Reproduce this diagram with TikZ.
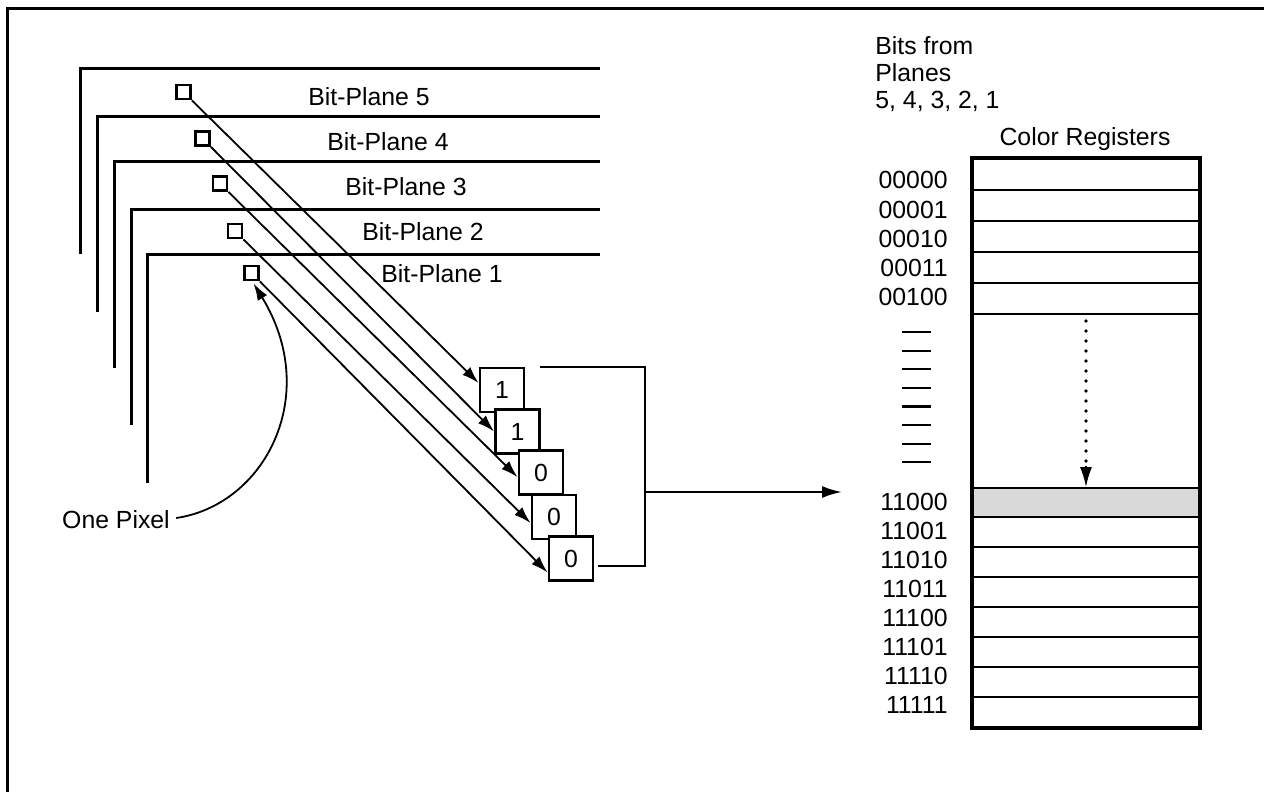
\documentclass[tikz,border=0pt]{standalone}
\usepackage{fontspec}
\setmainfont{Liberation Sans}
\usetikzlibrary{arrows.meta,calc}
\begin{document}
\begin{tikzpicture}[x=0.5pt,y=-0.5pt,
  txt/.style={font=\fontsize{12.4}{13.5}\selectfont,inner sep=0pt},
  plane/.style={line width=1.5pt},
  pix/.style={draw,line width=1.4pt,minimum size=7pt,inner sep=0pt},
  bitbox/.style={draw,fill=white,line width=1.4pt,minimum size=22pt,inner sep=0pt,font=\fontsize{12.4}{14}\selectfont},
  link/.style={line width=0.9pt,-{Latex[length=8.5pt,width=5.5pt]}},
  reg/.style={draw,line width=1pt,minimum width=113pt,inner sep=0pt,anchor=north west},
  dashmark/.style={line width=1.1pt},
]
\useasboundingbox (0,0) rectangle (1264,792);
% frame
\draw[line width=1.5pt] (1264,9) -- (7,9) -- (7,792);

% bit planes
\draw[plane] (600,69) -- (80,69) -- (80,254);
\draw[plane] (600,117) -- (97,117) -- (97,312);
\draw[plane] (600,162) -- (114,162) -- (114,368);
\draw[plane] (600,209) -- (131,209) -- (131,425);
\draw[plane] (600,254) -- (147,254) -- (147,483);

\node[txt,anchor=west] (t5) at (308,97) {Bit-Plane 5};
\node[txt,anchor=west] (t4) at (327,142) {Bit-Plane 4};
\node[txt,anchor=west] (t3) at (345,187) {Bit-Plane 3};
\node[txt,anchor=west] (t2) at (362,232) {Bit-Plane 2};
\node[txt,anchor=west] (t1) at (381,274) {Bit-Plane 1};

% pixels
\node[pix] (px5) at (183.5,92) {};
\node[pix] (px4) at (202.5,138.5) {};
\node[pix] (px3) at (220,183.5) {};
\node[pix] (px2) at (235,231) {};
\node[pix] (px1) at (251.5,273) {};

% bit boxes
\node[bitbox] (b5) at (502,390) {1};
\node[bitbox] (b4) at (517.5,431.5) {1};
\node[bitbox] (b3) at (541,472.5) {0};
\node[bitbox] (b2) at (554,517) {0};
\node[bitbox] (b1) at (571,558.5) {0};

\draw[link] (px5.south east) -- ($(b5.south west)!0.65!(b5.north west)$);
\draw[link] (px4.south east) -- ($(b4.south west)!0.5!(b4.north west)$);
\draw[link] (px3.south east) -- ($(b3.south west)!0.4!(b3.north west)$);
\draw[link] (px2.south east) -- ($(b2.south west)!0.37!(b2.north west)$);
\draw[link] (px1.south east) -- ($(b1.south west)!0.2!(b1.north west)$);

% one pixel
\node[txt] (onepix) at (116,520) {One Pixel};
\draw[link] ($(onepix.east)+(6,-2)$) .. controls (265,505) and (322,395) .. ($(px1.south)+(2,2)$);

% bracket and arrow
\coordinate (brt) at (540,367);
\coordinate (brb) at (598,566);
\coordinate (brm) at (645,492);
\coordinate (tip) at (842,492);
\draw[line width=1.1pt] (brt) -- (645,367) -- (645,566) -- (brb);
\draw[line width=1.1pt,-{Latex[length=10pt,width=6pt]}] (brm) -- (tip);

% headings
\node[txt,anchor=north west,align=left] (bits) at (875,36) {Bits from\\Planes\\5, 4, 3, 2, 1};
\node[txt] (creg) at (1085,139) {Color Registers};

% registers
\node[reg,minimum height=15.5pt] (r0) at (972,158) {};
\node[reg,minimum height=15.5pt] (r1) at (972,189) {};
\node[reg,minimum height=15.5pt] (r2) at (972,220) {};
\node[reg,minimum height=15.5pt] (r3) at (972,251) {};
\node[reg,minimum height=15.5pt] (r4) at (972,282) {};
\node[reg,minimum height=87pt] (gap) at (972,313) {};
\node[reg,minimum height=14.5pt,fill=black!15] (s0) at (972,487) {};
\node[reg,minimum height=15pt] (s1) at (972,516) {};
\node[reg,minimum height=15pt] (s2) at (972,546) {};
\node[reg,minimum height=15pt] (s3) at (972,576) {};
\node[reg,minimum height=15pt] (s4) at (972,606) {};
\node[reg,minimum height=15pt] (s5) at (972,636) {};
\node[reg,minimum height=15pt] (s6) at (972,666) {};
\node[reg,minimum height=15pt] (s7) at (972,696) {};
\draw[line width=1.8pt] (r0.north west) rectangle (s7.south east);

% labels
\node[txt,anchor=east] (l0) at (948,180) {00000};
\node[txt,anchor=east] (l1) at (948,210) {00001};
\node[txt,anchor=east] (l2) at (948,239) {00010};
\node[txt,anchor=east] (l3) at (948,268) {00011};
\node[txt,anchor=east] (l4) at (948,297) {00100};
\foreach \i in {0,...,7} {
  \draw[dashmark] (902,{332+18.6*\i}) -- (931,{332+18.6*\i});
}
\node[txt,anchor=east] (m0) at (948,502) {11000};
\node[txt,anchor=east] (m1) at (948,531) {11001};
\node[txt,anchor=east] (m2) at (948,560) {11010};
\node[txt,anchor=east] (m3) at (948,589) {11011};
\node[txt,anchor=east] (m4) at (948,618) {11100};
\node[txt,anchor=east] (m5) at (948,647) {11101};
\node[txt,anchor=east] (m6) at (948,676) {11110};
\node[txt,anchor=east] (m7) at (948,705) {11111};

% dotted arrow
\draw[line width=1.8pt,line cap=round,dash pattern=on 0pt off 5pt] ($(r4.south)+(0,6)$) -- ($(s0.north)+(0,-22)$);
\draw[line width=0.8pt,-{Latex[length=10pt,width=6pt]}] ($(s0.north)+(0,-21)$) -- (s0.north);
\end{tikzpicture}
\end{document}
